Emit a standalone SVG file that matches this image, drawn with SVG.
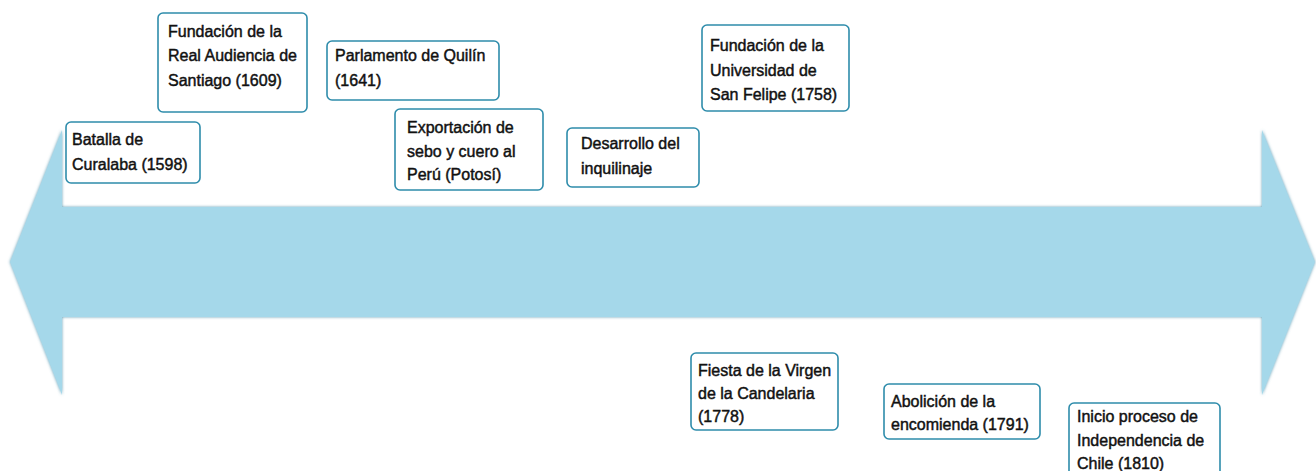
<svg xmlns="http://www.w3.org/2000/svg" width="1316" height="471" viewBox="0 0 1316 471">
<style>
.box{fill:#ffffff;stroke:#2e8cab;stroke-width:1.6}
.t{font-family:"Liberation Sans",Arial,sans-serif;font-size:16px;fill:#111111;stroke:#111111;stroke-width:0.45}
</style>
<defs>
<filter id="sh" x="-5%" y="-10%" width="110%" height="120%">
<feDropShadow dx="0" dy="0" stdDeviation="1.8" flood-color="#4f93ad" flood-opacity="0.9"/>
</filter>
</defs>
<rect width="1316" height="471" fill="#ffffff"/>
<g id="arrow">
<polygon points="10,262 62,130 62,207 1262,207 1262,130 1315,262 1262,395 1262,317 62,317 62,395" fill="#a5d8ea" filter="url(#sh)"/>
</g>
<g id="n1"><rect class="box" x="66" y="122" width="134" height="61" rx="5"/><text class="t" x="72" y="145">Batalla de</text><text class="t" x="72" y="170">Curalaba (1598)</text></g>
<g id="n2"><rect class="box" x="158" y="13" width="149" height="99" rx="5"/><text class="t" x="168" y="37">Fundación de la</text><text class="t" x="168" y="61">Real Audiencia de</text><text class="t" x="168" y="86">Santiago (1609)</text></g>
<g id="n3"><rect class="box" x="327" y="41" width="172" height="59" rx="5"/><text class="t" x="335" y="61">Parlamento de Quilín</text><text class="t" x="335" y="86">(1641)</text></g>
<g id="n4"><rect class="box" x="395" y="109" width="148" height="81" rx="5"/><text class="t" x="407" y="133">Exportación de</text><text class="t" x="407" y="157">sebo y cuero al</text><text class="t" x="407" y="180">Perú (Potosí)</text></g>
<g id="n5"><rect class="box" x="567" y="128" width="132" height="59" rx="5"/><text class="t" x="581" y="149">Desarrollo del</text><text class="t" x="581" y="174">inquilinaje</text></g>
<g id="n6"><rect class="box" x="702" y="25" width="147" height="86" rx="5"/><text class="t" x="710" y="51">Fundación de la</text><text class="t" x="710" y="76">Universidad de</text><text class="t" x="710" y="100">San Felipe (1758)</text></g>
<g id="n7"><rect class="box" x="691" y="353" width="147" height="77" rx="5"/><text class="t" x="698" y="376">Fiesta de la Virgen</text><text class="t" x="698" y="399">de la Candelaria</text><text class="t" x="698" y="422">(1778)</text></g>
<g id="n8"><rect class="box" x="884" y="384" width="156" height="55" rx="5"/><text class="t" x="891" y="407">Abolición de la</text><text class="t" x="891" y="430">encomienda (1791)</text></g>
<g id="n9"><rect class="box" x="1069" y="403" width="151" height="80" rx="5"/><text class="t" x="1077" y="422">Inicio proceso de</text><text class="t" x="1077" y="446">Independencia de</text><text class="t" x="1077" y="469">Chile (1810)</text></g>
<g id="connectors"></g>
</svg>
